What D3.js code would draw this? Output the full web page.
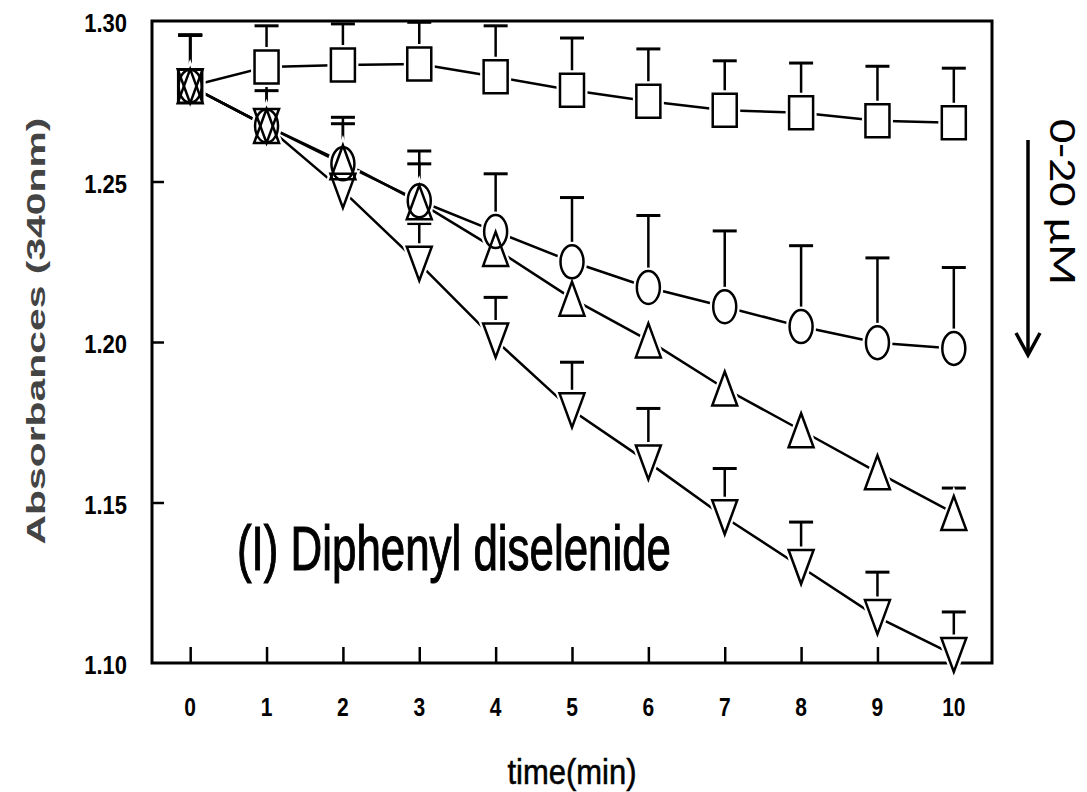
<!DOCTYPE html>
<html>
<head>
<meta charset="utf-8">
<script src="https://cdn.jsdelivr.net/npm/d3@7"></script>
<style>
  html, body { margin: 0; padding: 0; background: #fff; }
  svg { display: block; }
</style>
</head>
<body>
<div id="chart"></div>
<script>
// Time points (min)
const timePoints = [0, 1, 2, 3, 4, 5, 6, 7, 8, 9, 10];

// Absorbance at 340 nm, mean and upper error for each concentration
const squareMean = [1.2797, 1.2857, 1.2863, 1.2866, 1.2826, 1.2784, 1.2750, 1.2722, 1.2714, 1.2689, 1.2683];
const squareErr  = [0.0159, 0.0128, 0.0128, 0.0130, 0.0159, 0.0163, 0.0163, 0.0154, 0.0155, 0.0170, 0.0170];

const circleMean = [1.2797, 1.2673, 1.2555, 1.2440, 1.2344, 1.2250, 1.2170, 1.2110, 1.2048, 1.1998, 1.1980];
const circleErr  = [0.0159, 0.0135, 0.0125, 0.0155, 0.0180, 0.0200, 0.0224, 0.0236, 0.0252, 0.0264, 0.0252];

const upTriMean = [1.2797, 1.2673, 1.2560, 1.2435, 1.2290, 1.2135, 1.2005, 1.1855, 1.1725, 1.1594, 1.1467];
const upTriErr  = [0.0159, 0.0110, 0.0140, 0.0120, 0, 0, 0, 0, 0, 0, 0.0078];

const downTriMean = [1.2797, 1.2673, 1.2471, 1.2244, 1.2005, 1.1787, 1.1625, 1.1454, 1.1299, 1.1143, 1.1025];
const downTriErr  = [0.0159, 0, 0, 0.0125, 0.0134, 0.0150, 0.0168, 0.0152, 0.0140, 0.0140, 0.0134];

// Axis ticks
const yTickValues = [1.10, 1.15, 1.20, 1.25, 1.30];
const yTickLabels = ["1.10", "1.15", "1.20", "1.25", "1.30"];
const xTickLabels = ["0", "1", "2", "3", "4", "5", "6", "7", "8", "9", "10"];

const W = 1087, H = 792;
const svg = d3.select("#chart").append("svg")
  .attr("width", W).attr("height", H);
svg.append("rect").attr("width", W).attr("height", H).attr("fill", "#fff");

const x = d3.scaleLinear().domain([-0.5, 10.5]).range([152, 992]);
const y = d3.scaleLinear().domain([1.10, 1.30]).range([663, 21]);

const FONT = "'Liberation Sans', Arial, Helvetica, sans-serif";

// Inner ticks on bottom and left axes
const xAxis = d3.axisBottom(x).tickValues(timePoints).tickSize(-16).tickSizeOuter(0).tickFormat("");
const gx = svg.append("g").attr("transform", `translate(0,${y.range()[0]})`).call(xAxis);
gx.select(".domain").remove();
gx.selectAll(".tick line").attr("stroke", "#000").attr("stroke-width", 2.5);

const yAxis = d3.axisLeft(y).tickValues([1.15, 1.20, 1.25]).tickSize(-12).tickSizeOuter(0).tickFormat("");
const gy = svg.append("g").attr("transform", `translate(${x.range()[0]},0)`).call(yAxis);
gy.select(".domain").remove();
gy.selectAll(".tick line").attr("stroke", "#000").attr("stroke-width", 2.5);

// Plot frame
svg.append("rect")
  .attr("x", x.range()[0]).attr("y", y.range()[1])
  .attr("width", x.range()[1] - x.range()[0])
  .attr("height", y.range()[0] - y.range()[1])
  .attr("fill", "none").attr("stroke", "#000").attr("stroke-width", 3);

// Tall lettering helper
function tallText(parent, str, tx, ty, size, sy, anchor, weight) {
  return parent.append("g")
    .attr("transform", `translate(${tx},${ty}) scale(1,${sy})`)
    .append("text")
    .attr("text-anchor", anchor)
    .attr("font-family", FONT)
    .attr("font-size", size)
    .attr("font-weight", weight)
    .attr("fill", "#000")
    .text(str);
}

yTickValues.forEach((v, i) => {
  tallText(svg, yTickLabels[i], 127, y(v) + 11, 22, 1.2, "end", "bold");
});
timePoints.forEach((t, i) => {
  tallText(svg, xTickLabels[i], x(t), 716, 21, 1.22, "middle", "bold");
});

// Axis titles
tallText(svg, "time(min)", x(5), 784, 31, 1.15, "middle", "normal")
  .attr("textLength", 129).attr("lengthAdjust", "spacingAndGlyphs")
  .attr("stroke", "#000").attr("stroke-width", 0.5);

svg.append("text")
  .attr("transform", `translate(45,331) rotate(-90)`)
  .attr("text-anchor", "middle")
  .attr("font-family", FONT)
  .attr("font-size", 26)
  .attr("font-weight", "bold")
  .attr("fill", "#444")
  .attr("textLength", 427).attr("lengthAdjust", "spacingAndGlyphs")
  .text("Absorbances (340nm)");

// Panel caption
tallText(svg, "(I) Diphenyl diselenide", 237, 570, 44, 1.45, "start", "normal")
  .attr("textLength", 434).attr("lengthAdjust", "spacingAndGlyphs")
  .attr("stroke", "#000").attr("stroke-width", 0.8);

// Series
const shapes = {
  square: "M-12,-16.5H12V16.5H-12Z",
  circle: "M-11.5,0A11.5,16.5 0 1 0 11.5,0A11.5,16.5 0 1 0 -11.5,0Z",
  up: "M0,-17L12.5,17L-12.5,17Z",
  down: "M-12.5,-17L12.5,-17L0,17Z"
};
const series = [
  { mean: squareMean, err: squareErr, shape: "square" },
  { mean: circleMean, err: circleErr, shape: "circle" },
  { mean: upTriMean, err: upTriErr, shape: "up" },
  { mean: downTriMean, err: downTriErr, shape: "down" }
];

const line = d3.line().x(d => x(d.t)).y(d => y(d.v));
const pts = s => timePoints.map((t, i) => ({ t, v: s.mean[i], e: s.err[i] }));

const gLines = svg.append("g");
const gErr = svg.append("g");
const gFill = svg.append("g");
const gMark = svg.append("g");

series.forEach(s => {
  const p = pts(s);
  gLines.append("path").datum(p).attr("d", line)
    .attr("fill", "none").attr("stroke", "#000").attr("stroke-width", 2.5);

  const eb = gErr.selectAll(null).data(p.filter(d => d.e > 0)).enter().append("g");
  eb.append("line")
    .attr("x1", d => x(d.t)).attr("x2", d => x(d.t))
    .attr("y1", d => y(d.v)).attr("y2", d => y(d.v + d.e))
    .attr("stroke", "#000").attr("stroke-width", 2.5);
  eb.append("line")
    .attr("x1", d => x(d.t) - 12).attr("x2", d => x(d.t) + 12)
    .attr("y1", d => y(d.v + d.e)).attr("y2", d => y(d.v + d.e))
    .attr("stroke", "#000").attr("stroke-width", 3);

  gFill.selectAll(null).data(p).enter().append("path")
    .attr("d", shapes[s.shape])
    .attr("transform", d => `translate(${x(d.t)},${y(d.v)})`)
    .attr("fill", "#fff").attr("stroke", "#fff").attr("stroke-width", 7);

  gMark.selectAll(null).data(p).enter().append("path")
    .attr("d", shapes[s.shape])
    .attr("transform", d => `translate(${x(d.t)},${y(d.v)})`)
    .attr("fill", "none").attr("stroke", "#000").attr("stroke-width", 2.5);
});

// Concentration arrow and label at the right
svg.append("line")
  .attr("x1", 1028).attr("x2", 1028).attr("y1", 140).attr("y2", 353)
  .attr("stroke", "#000").attr("stroke-width", 3.5);
svg.append("path")
  .attr("d", "M1016,333L1028,355L1040,333")
  .attr("fill", "none").attr("stroke", "#000").attr("stroke-width", 3.5)
  .attr("stroke-linejoin", "miter");

svg.append("text")
  .attr("transform", "translate(1050,119) rotate(90)")
  .attr("text-anchor", "start")
  .attr("font-family", "Carlito, Calibri, 'Liberation Sans', Arial, sans-serif")
  .attr("font-size", 38)
  .attr("fill", "#000")
  .attr("textLength", 166).attr("lengthAdjust", "spacingAndGlyphs")
  .text("0-20 µM");
</script>
</body>
</html>
